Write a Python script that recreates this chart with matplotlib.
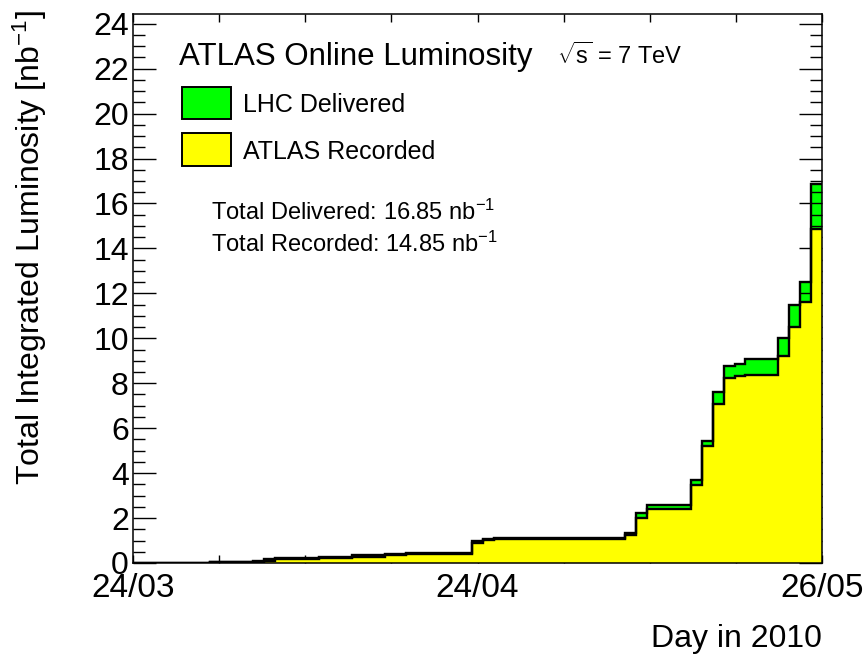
import numpy as np
import matplotlib
matplotlib.use('Agg')
import matplotlib.pyplot as plt
from matplotlib.ticker import FixedLocator, MultipleLocator
from matplotlib.patches import Rectangle

# ---------------- data (cumulative, one value per day starting 24/03/2010) ----------------
delivered = [0, 0, 0, 0, 0, 0, 0,
             0.04, 0.04, 0.04, 0.04,
             0.10, 0.16,
             0.22, 0.22, 0.22, 0.22,
             0.28, 0.28, 0.28,
             0.34, 0.34, 0.34,
             0.40, 0.40,
             0.46, 0.46, 0.46, 0.46, 0.46, 0.46,
             0.97, 1.08,
             1.11, 1.11, 1.11, 1.11, 1.11, 1.11, 1.11, 1.11, 1.11, 1.11, 1.11, 1.11,
             1.32, 2.22,
             2.58, 2.58, 2.58, 2.58,
             3.69, 5.42, 7.61, 8.77, 8.84,
             9.10, 9.10, 9.10,
             10.01, 11.47, 12.50, 16.85]
recorded = [0, 0, 0, 0, 0, 0, 0,
            0.03, 0.03, 0.03, 0.03,
            0.05, 0.10,
            0.16, 0.16, 0.16, 0.16,
            0.22, 0.22, 0.22,
            0.28, 0.28, 0.28,
            0.34, 0.34,
            0.40, 0.40, 0.40, 0.40, 0.40, 0.40,
            0.90, 1.03,
            1.06, 1.06, 1.06, 1.06, 1.06, 1.06, 1.06, 1.06, 1.06, 1.06, 1.06, 1.06,
            1.25, 2.01,
            2.39, 2.39, 2.39, 2.39,
            3.45, 5.20, 7.07, 8.24, 8.31,
            8.36, 8.36, 8.36,
            9.20, 10.50, 11.61, 14.85]
xtick_pos = [0, 31.5, 63]
xtick_labels = ["24/03", "24/04", "26/05"]
total_delivered = 16.85
total_recorded = 14.85

GREEN = '#00ff00'
YELLOW = '#ffff00'

plt.rcParams['font.family'] = ['Liberation Sans', 'DejaVu Sans']
plt.rcParams['mathtext.fontset'] = 'custom'
plt.rcParams['mathtext.rm'] = 'Liberation Sans'
plt.rcParams['mathtext.it'] = 'Liberation Sans'
plt.rcParams['mathtext.default'] = 'regular'

W, H = 864, 656
fig = plt.figure(figsize=(W / 100, H / 100), dpi=100)
L, R, T, B = 133, 822, 14, 563
ax = fig.add_axes([L / W, 1 - B / H, (R - L) / W, (B - T) / H])

edges = np.arange(len(delivered) + 1)
ax.stairs(delivered, edges, fill=True, color=GREEN, lw=0, zorder=1)
ax.stairs(recorded, edges, fill=True, color=YELLOW, lw=0, zorder=2)
ax.stairs(delivered, edges, color='black', lw=1.7, baseline=None, zorder=3)
ax.stairs(recorded, edges, color='black', lw=1.7, baseline=None, zorder=3)

ax.set_xlim(0, 63)
ax.set_ylim(0, 1.45 * total_delivered)

for s in ax.spines.values():
    s.set_linewidth(1.1)
    s.set_zorder(5)

ax.yaxis.set_major_locator(MultipleLocator(2))
ax.yaxis.set_minor_locator(MultipleLocator(0.5))
ax.xaxis.set_major_locator(FixedLocator(xtick_pos))
ax.xaxis.set_minor_locator(FixedLocator([63 / 8 * i for i in range(9)]))
ax.set_xticklabels(xtick_labels)

ax.tick_params(axis='y', which='major', direction='in', left=True, right=True,
               length=16.5, width=1.0, labelsize=23, pad=3)
ax.tick_params(axis='y', which='minor', direction='in', left=True, right=True,
               length=8.5, width=1.0)
ax.tick_params(axis='x', which='both', direction='in', top=True, bottom=True,
               length=5.5, width=1.0, labelsize=24, pad=7)

fig.text(30 / W, 1 - 10 / H, r'Total Integrated Luminosity [nb$^{-1}$]',
         rotation=90, ha='center', va='top', fontsize=23)
fig.text(R / W, 1 - 647 / H, 'Day in 2010', ha='right', va='baseline', fontsize=23)

fig.text(179 / W, 1 - 65 / H, 'ATLAS Online Luminosity', ha='left', va='baseline',
         fontsize=22.5)
fig.text(557 / W, 1 - 64 / H, r'$\sqrt{s}$ = 7 TeV', ha='left', va='baseline',
         fontsize=17)

for (y0, y1, col, lab) in [(87, 119, GREEN, 'LHC Delivered'), (133, 166, YELLOW, 'ATLAS Recorded')]:
    fig.patches.append(Rectangle((182 / W, 1 - y1 / H), (231 - 182) / W, (y1 - y0) / H,
                                 transform=fig.transFigure, facecolor=col,
                                 edgecolor='black', lw=1.4, figure=fig))
    fig.text(243 / W, 1 - (y1 - 7) / H, lab, ha='left', va='baseline', fontsize=18)

fig.text(211 / W, 1 - 220 / H, f'Total Delivered: {total_delivered:.2f} nb$^{{-1}}$',
         ha='left', va='baseline', fontsize=17)
fig.text(211 / W, 1 - 252 / H, f'Total Recorded: {total_recorded:.2f} nb$^{{-1}}$',
         ha='left', va='baseline', fontsize=17)

fig.savefig('out.png', dpi=100)
